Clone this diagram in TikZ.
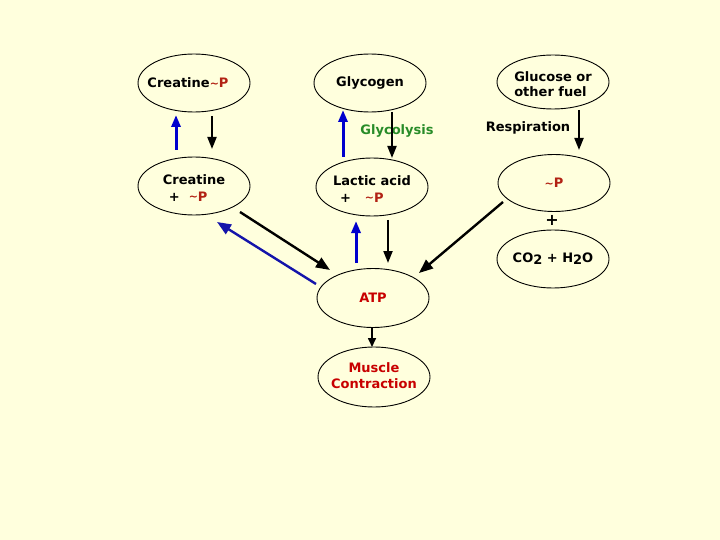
\documentclass[tikz,border=0pt]{standalone}
\usepackage{fontspec}
\setmainfont{DejaVu Sans}
\usetikzlibrary{shapes.geometric,arrows.meta}
\definecolor{bg}{RGB}{255,255,221}
\definecolor{pred}{RGB}{178,34,20}
\definecolor{atpred}{RGB}{200,0,0}
\definecolor{glyc}{RGB}{40,140,40}
\definecolor{arrblue}{RGB}{0,0,205}
\definecolor{longblue}{RGB}{20,20,170}
\newcommand\tld{{\fontsize{11}{11}\selectfont\raisebox{0.5pt}{\textasciitilde}}}
\newcommand\pp{\textcolor{pred}{\tld P}}
\newcommand\zbox[1]{\makebox[0pt]{#1}}
\newcommand\zlines[2]{\makebox[0pt]{\raisebox{#1}[0pt][0pt]{\begin{tabular}{@{}l@{}}#2\end{tabular}}}}
\tikzset{
  oval/.style={draw, ellipse, line width=0.9pt, inner sep=0pt,
    minimum width=112pt, minimum height=58pt},
  bluearr/.style={line width=3pt, arrblue, -{Triangle[length=12pt,width=9pt]}},
  blackarr/.style={line width=2pt, black, -{Triangle[length=12pt,width=9pt]}},
  longblack/.style={line width=2.4pt, black, -{Triangle[length=14pt,width=11pt]}},
  longbluearr/.style={line width=2.4pt, longblue, -{Triangle[length=14pt,width=11pt]}},
  lbl/.style={inner sep=0pt}
}
\begin{document}
\begin{tikzpicture}[x=1pt,y=-1pt,font=\bfseries\fontsize{13}{16}\selectfont]
\fill[bg] (0,0) rectangle (720,540);
\useasboundingbox (0,0) rectangle (720,540);

% ellipses
\node[oval] (cp) at (194,83) {\zbox{Creatine\pp\hspace*{12pt}}};
\node[oval] (gly) at (370,83) {\zbox{Glycogen}};
\node[oval, minimum height=54pt, font=\bfseries\fontsize{13}{15}\selectfont] (glu) at (553,82) {\zlines{-7.5pt}{Glucose or\\other fuel}};
\node[oval, font=\bfseries\fontsize{13}{17}\selectfont] (cr) at (194,186) {\zlines{-6.3pt}{Creatine\\\hspace*{6pt}+\hspace*{9pt}\pp}};
\node[oval, font=\bfseries\fontsize{13}{17}\selectfont] (lac) at (372,187) {\zlines{-6.3pt}{Lactic acid\\\hspace*{7pt}+\hspace*{14pt}\pp}};
\node[oval, minimum height=57pt] (p) at (554,183) {\zbox{\pp}};
\node[oval] (co) at (553,259) {\zbox{CO\raisebox{-2pt}{2} + H\raisebox{-2pt}{2}O}};
\node[oval, minimum height=59pt, text=atpred] (atp) at (373,298) {\zbox{ATP}};
\node[oval, minimum height=60pt, text=atpred, font=\bfseries\fontsize{13}{16}\selectfont] (mus) at (374,377) {\makebox[0pt]{\begin{tabular}{@{}c@{}}Muscle\\Contraction\end{tabular}}};

% labels
\node[lbl, text=glyc] (glylbl) at (397,131) {Glycolysis};
\node[lbl] (reslbl) at (528,128) {Respiration};
\node[lbl, font=\bfseries\fontsize{16}{16}\selectfont] (plus) at (552,220) {+};

% connector end points
\coordinate (a1s) at (176,150); \coordinate (a1e) at (176,115);
\coordinate (a2s) at (212,116); \coordinate (a2e) at (212,149);
\coordinate (a3s) at (343,157); \coordinate (a3e) at (343,110);
\coordinate (a4s) at (392,112); \coordinate (a4e) at (392,158);
\coordinate (a5s) at (579,110); \coordinate (a5e) at (579,150);
\coordinate (a6s) at (240,212); \coordinate (a6e) at (330,270);
\coordinate (a7s) at (316,284); \coordinate (a7e) at (217,222);
\coordinate (a8s) at (356,263); \coordinate (a8e) at (356,221);
\coordinate (a9s) at (388,220); \coordinate (a9e) at (388,263);
\coordinate (a10s) at (503,202); \coordinate (a10e) at (419,273);
\coordinate (a11s) at (372,328); \coordinate (a11e) at (372,347);

\draw[bluearr] (a1s) -- (a1e);
\draw[blackarr] (a2s) -- (a2e);
\draw[bluearr] (a3s) -- (a3e);
\draw[blackarr] (a4s) -- (a4e);
\draw[blackarr] (a5s) -- (a5e);
\draw[longblack] (a6s) -- (a6e);
\draw[longbluearr] (a7s) -- (a7e);
\draw[bluearr] (a8s) -- (a8e);
\draw[blackarr] (a9s) -- (a9e);
\draw[longblack] (a10s) -- (a10e);
\draw[line width=1.6pt, -{Triangle[length=9pt,width=8pt]}] (a11s) -- (a11e);
\end{tikzpicture}
\end{document}
